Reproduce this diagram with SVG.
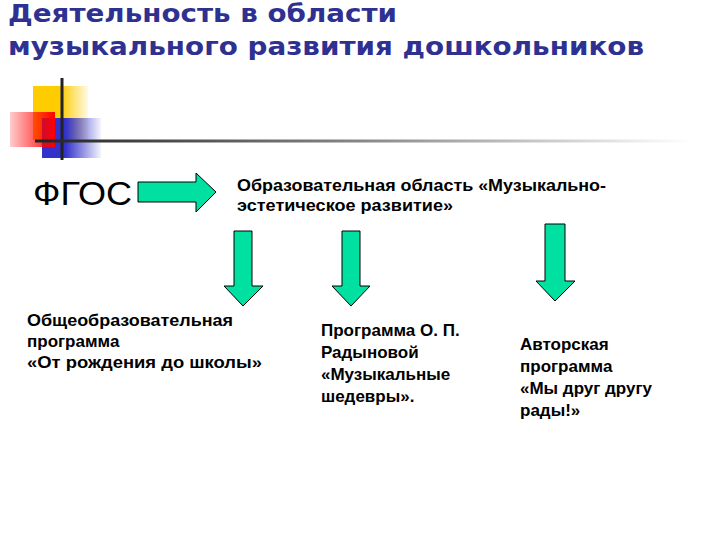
<svg xmlns="http://www.w3.org/2000/svg" width="720" height="540" viewBox="0 0 720 540">
<style>
.t{font-family:"DejaVu Sans",Verdana,sans-serif;font-weight:bold;fill:#2e3192;font-size:25px}
.b{font-family:"Liberation Sans",Arial,sans-serif;font-weight:bold;font-size:17px;fill:#000}
.ar{fill:#00e0a0;stroke:#000;stroke-width:1}
</style>
<defs>
<linearGradient id="gy"><stop offset="0" stop-color="#ffcc00"/><stop offset="0.5" stop-color="#ffcc00"/><stop offset="1" stop-color="#ffcc00" stop-opacity="0.1"/></linearGradient>
<linearGradient id="gr"><stop offset="0" stop-color="#ff0000" stop-opacity="0.2"/><stop offset="1" stop-color="#ff0000"/></linearGradient>
<linearGradient id="gb"><stop offset="0" stop-color="#3333cc"/><stop offset="0.4" stop-color="#3333cc"/><stop offset="1" stop-color="#3333cc" stop-opacity="0.05"/></linearGradient>
<linearGradient id="gl"><stop offset="0" stop-color="#222"/><stop offset="0.5" stop-color="#888"/><stop offset="1" stop-color="#fff"/></linearGradient>
</defs>
<text class="t" x="8" y="22" textLength="389" lengthAdjust="spacingAndGlyphs">Деятельность в области</text>
<text class="t" x="8" y="55" textLength="636" lengthAdjust="spacingAndGlyphs">музыкального развития дошкольников</text>
<g id="logo">
<rect x="33" y="86" width="55" height="54" fill="url(#gy)"/>
<rect x="42" y="118" width="59" height="40" fill="url(#gb)"/>
<rect x="10" y="112" width="45" height="35" fill="url(#gr)"/>
<rect x="60.5" y="78" width="3" height="82" fill="#222"/>
<rect x="35" y="139.5" width="655" height="3" fill="url(#gl)"/>
</g>
<g id="fgos"><text x="33" y="205" font-family="Liberation Sans,Arial,sans-serif" font-size="33" fill="#000" textLength="99" lengthAdjust="spacingAndGlyphs">ФГОС</text></g>
<g id="connectors">
<polygon class="ar" points="138,182 196,182 196,173 216,192 196,212 196,202 138,202"/>
<polygon class="ar" points="234,231 252,231 252,286 263,286 243,306 224,286 234,286"/>
<polygon class="ar" points="342,231 360,231 360,286 370,286 351,306 332,286 342,286"/>
<polygon class="ar" points="545,224 565,224 565,281 575,281 555,301 536,281 545,281"/>
</g>
<g id="area"><text class="b" x="237" y="191" textLength="369" lengthAdjust="spacingAndGlyphs">Образовательная область «Музыкально-</text><text class="b" x="237" y="211" textLength="216" lengthAdjust="spacingAndGlyphs">эстетическое развитие»</text></g>
<g id="n1"><text class="b" x="27" y="326" textLength="206" lengthAdjust="spacingAndGlyphs">Общеобразовательная</text><text class="b" x="27" y="347">программа</text><text class="b" x="27" y="368" textLength="235" lengthAdjust="spacingAndGlyphs"> «От рождения до школы»</text></g>
<g id="n2"><text class="b" x="321" y="336">Программа О. П.</text><text class="b" x="321" y="358">Радыновой</text><text class="b" x="321" y="380">«Музыкальные</text><text class="b" x="321" y="402">шедевры».</text></g>
<g id="n3"><text class="b" x="520" y="350">Авторская</text><text class="b" x="520" y="372">программа</text><text class="b" x="520" y="394">«Мы друг другу</text><text class="b" x="520" y="416">рады!»</text></g>
</svg>
